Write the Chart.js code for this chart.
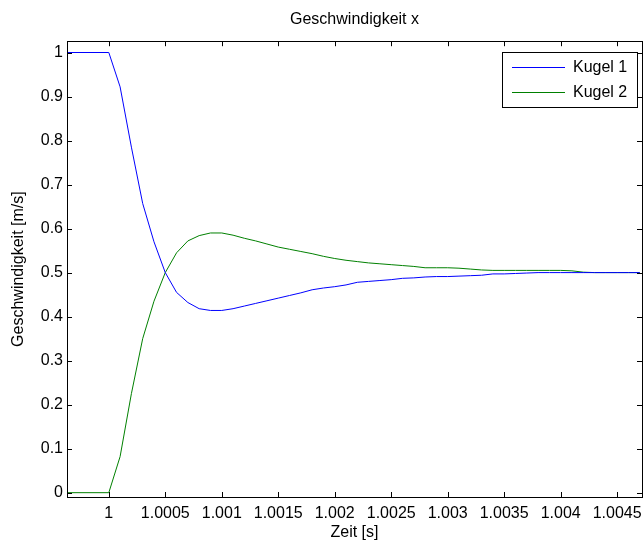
<!DOCTYPE html>
<html>
<head>
<meta charset="utf-8">
<script src="https://cdn.jsdelivr.net/npm/chart.js@4"></script>
<style>
  body { margin: 0; background: #fff; }
  canvas { display: block; }
</style>
</head>
<body>
<canvas id="speedChart" width="643" height="542"></canvas>
<script>
const times = [
  0.9996, 1.0000, 1.0001, 1.0002, 1.0003, 1.0004, 1.0005, 1.0006, 1.0007, 1.0008, 1.0009,
  1.0010, 1.0011, 1.0012, 1.0013, 1.0014, 1.0015, 1.0016, 1.0017, 1.0018, 1.0019,
  1.0020, 1.0021, 1.0022, 1.0023, 1.0024, 1.0025, 1.0026, 1.0027, 1.0028, 1.0029,
  1.0030, 1.0031, 1.0032, 1.0033, 1.0034, 1.0035, 1.0036, 1.0037, 1.0038, 1.0039,
  1.0040, 1.0041, 1.0042, 1.0043, 1.0044, 1.0045, 1.0046, 1.0047
];
const kugel1 = [
  1.000, 1.000, 0.922, 0.785, 0.657, 0.570, 0.500, 0.455, 0.432, 0.418, 0.414,
  0.414, 0.418, 0.424, 0.430, 0.436, 0.442, 0.448, 0.454, 0.461, 0.465,
  0.468, 0.472, 0.478, 0.480, 0.482, 0.484, 0.487, 0.488, 0.490, 0.491,
  0.491, 0.492, 0.493, 0.494, 0.497, 0.497, 0.498, 0.499, 0.500, 0.500,
  0.500, 0.500, 0.500, 0.500, 0.500, 0.500, 0.500, 0.500
];
const kugel2 = [
  0.000, 0.000, 0.082, 0.225, 0.350, 0.435, 0.500, 0.545, 0.572, 0.584, 0.590,
  0.590, 0.585, 0.578, 0.572, 0.565, 0.558, 0.553, 0.548, 0.543, 0.537,
  0.532, 0.528, 0.525, 0.522, 0.520, 0.518, 0.516, 0.514, 0.511, 0.511,
  0.511, 0.510, 0.508, 0.506, 0.505, 0.505, 0.505, 0.505, 0.505, 0.505,
  0.505, 0.504, 0.501, 0.500, 0.500, 0.500, 0.500, 0.500
];
const xTicks = [1, 1.0005, 1.001, 1.0015, 1.002, 1.0025, 1.003, 1.0035, 1.004, 1.0045];
const yTicks = [0, 0.1, 0.2, 0.3, 0.4, 0.5, 0.6, 0.7, 0.8, 0.9, 1];

const FONT = 'Liberation Sans, Arial, Helvetica, sans-serif';

function toPoints(values) {
  return times.map((t, i) => ({ x: t, y: values[i] }));
}

// box round the plot with inward ticks on all four sides (matlab look)
const boxTicks = {
  id: 'boxTicks',
  afterDatasetsDraw(chart) {
    const { ctx, chartArea: a, scales } = chart;
    const len = 5;
    ctx.save();
    ctx.strokeStyle = '#000';
    ctx.lineWidth = 1;
    ctx.beginPath();
    scales.x.ticks.forEach(t => {
      const px = Math.round(scales.x.getPixelForValue(t.value)) + 0.5;
      ctx.moveTo(px, a.bottom); ctx.lineTo(px, a.bottom - len);
      ctx.moveTo(px, a.top); ctx.lineTo(px, a.top + len);
    });
    scales.y.ticks.forEach(t => {
      const py = Math.round(scales.y.getPixelForValue(t.value)) + 0.5;
      ctx.moveTo(a.left, py); ctx.lineTo(a.left + len, py);
      ctx.moveTo(a.right, py); ctx.lineTo(a.right - len, py);
    });
    ctx.stroke();
    ctx.strokeRect(Math.round(a.left) + 0.5, Math.round(a.top) + 0.5,
      Math.round(a.right - a.left), Math.round(a.bottom - a.top));
    ctx.restore();
  }
};

// legend box in the upper right corner
const boxLegend = {
  id: 'boxLegend',
  afterDraw(chart) {
    const { ctx } = chart;
    const x0 = 502, y0 = 52, w = 135, h = 55;
    ctx.save();
    ctx.fillStyle = '#fff';
    ctx.fillRect(x0, y0, w, h);
    ctx.strokeStyle = '#000';
    ctx.lineWidth = 1;
    ctx.strokeRect(x0 + 0.5, y0 + 0.5, w, h);
    ctx.font = '16px ' + FONT;
    ctx.textBaseline = 'middle';
    chart.data.datasets.forEach((ds, i) => {
      const ly = y0 + 15 + i * 25;
      ctx.strokeStyle = ds.borderColor;
      ctx.beginPath();
      ctx.moveTo(x0 + 10, ly + 0.5);
      ctx.lineTo(x0 + 63, ly + 0.5);
      ctx.stroke();
      ctx.fillStyle = '#000';
      ctx.fillText(ds.label, x0 + 71, ly + 1);
    });
    ctx.restore();
  }
};

const ctx = document.getElementById('speedChart').getContext('2d');

const speedChart = new Chart(ctx, {
  type: 'line',
  data: {
    datasets: [
      {
        label: 'Kugel 1',
        data: toPoints(kugel1),
        borderColor: '#0000ff',
        borderWidth: 1,
        pointRadius: 0,
        tension: 0,
        fill: false
      },
      {
        label: 'Kugel 2',
        data: toPoints(kugel2),
        borderColor: '#008000',
        borderWidth: 1,
        pointRadius: 0,
        tension: 0,
        fill: false
      }
    ]
  },
  options: {
    responsive: false,
    animation: false,
    layout: { padding: { left: 0, right: 1, top: 0, bottom: 0 } },
    scales: {
      x: {
        type: 'linear',
        min: 0.99963,
        max: 1.00472,
        afterFit: (scale) => {
          scale.height = 45;
          // let the last label run off the edge like in the original
          scale.paddingLeft = 0;
          scale.paddingRight = 0;
        },
        afterBuildTicks: (scale) => { scale.ticks = xTicks.map(v => ({ value: v })); },
        grid: { display: false, drawTicks: false },
        border: { display: false },
        ticks: {
          color: '#000',
          padding: 7,
          maxRotation: 0,
          autoSkip: false,
          font: { family: FONT, size: 16 },
          callback: (v) => String(v)
        },
        title: {
          display: true,
          text: 'Zeit [s]',
          color: '#000',
          padding: { top: 0, bottom: 0 },
          font: { family: FONT, size: 16 }
        }
      },
      y: {
        type: 'linear',
        min: -0.0098,
        max: 1.0257,
        afterFit: (scale) => { scale.width = 67; },
        afterBuildTicks: (scale) => { scale.ticks = yTicks.map(v => ({ value: v })); },
        grid: { display: false, drawTicks: false },
        border: { display: false },
        ticks: {
          color: '#000',
          padding: 4,
          autoSkip: false,
          font: { family: FONT, size: 16 },
          callback: (v) => String(v)
        },
        title: {
          display: true,
          text: 'Geschwindigkeit [m/s]',
          color: '#000',
          padding: { top: 9, bottom: 0 },
          font: { family: FONT, size: 16 }
        }
      }
    },
    plugins: {
      legend: { display: false },
      tooltip: { enabled: false },
      title: {
        display: true,
        text: 'Geschwindigkeit x',
        color: '#000',
        fullSize: false,
        padding: { top: 10, bottom: 12 },
        font: { family: FONT, size: 16, weight: 'normal' }
      }
    }
  },
  plugins: [boxTicks, boxLegend]
});
</script>
</body>
</html>
